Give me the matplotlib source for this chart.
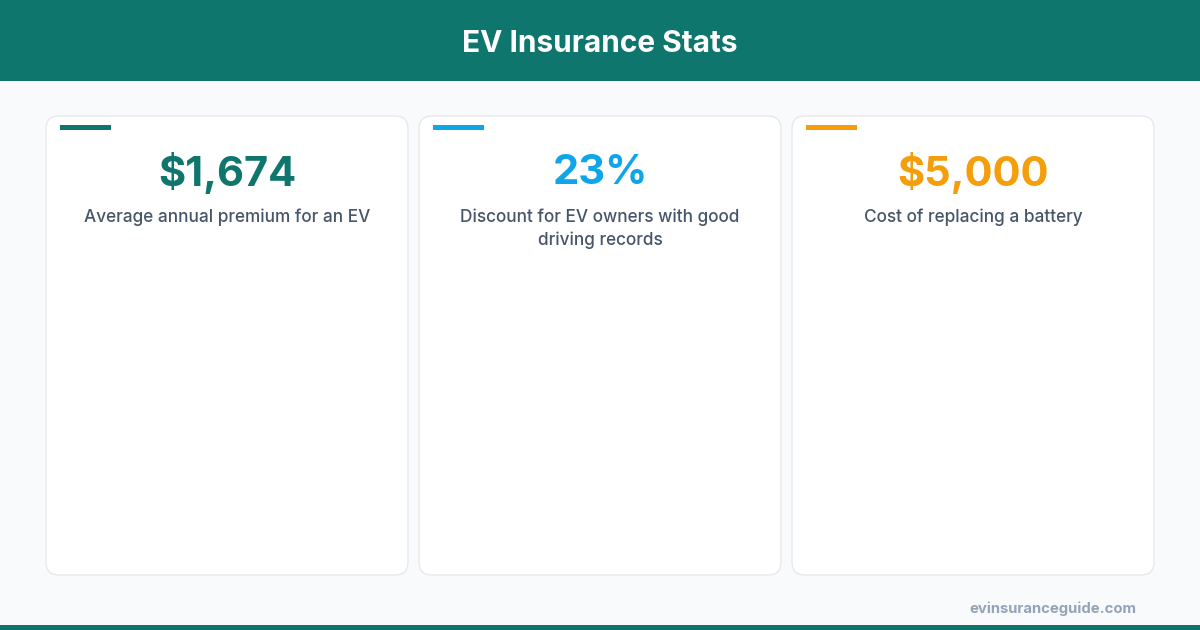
import matplotlib
matplotlib.use("Agg")
import matplotlib.pyplot as plt
from matplotlib.patches import FancyBboxPatch, Rectangle

# stat cards
values = ["$1,674", "23%", "$5,000"]
labels = [
    "Average annual premium for an EV",
    "Discount for EV owners with good\ndriving records",
    "Cost of replacing a battery",
]
accents = ["#0f766e", "#0ea5e9", "#f59e0b"]

title = "EV Insurance Stats"
source = "evinsuranceguide.com"

W, H = 1200, 630
plt.rcParams["font.family"] = ["Inter", "DejaVu Sans"]

fig = plt.figure(figsize=(W / 100, H / 100), dpi=100)
fig.patch.set_facecolor("#f8fafc")
ax = fig.add_axes([0, 0, 1, 1])
ax.set_xlim(0, W)
ax.set_ylim(H, 0)
ax.axis("off")

# header band + bottom strip
ax.add_patch(Rectangle((0, 0), W, 81, color="#0f766e", lw=0))
ax.add_patch(Rectangle((0, 625), W, 5, color="#0f766e", lw=0))
ax.text(W / 2, 41, title, ha="center", va="center_baseline", color="white",
        fontsize=21.5, fontweight="bold")

card_w, card_h, gap = 362, 459, 11
x0, y0 = 46, 116
for i, (val, lab, col) in enumerate(zip(values, labels, accents)):
    cx = x0 + i * (card_w + gap)
    ax.add_patch(FancyBboxPatch((cx, y0), card_w, card_h,
                                boxstyle="round,pad=0,rounding_size=13",
                                fc="white", ec="#e5e7eb", lw=0.9))
    ax.add_patch(Rectangle((cx + 14, y0 + 9), 51, 5, color=col, lw=0))
    ax.text(cx + card_w / 2, 173, val, ha="center", va="center",
            color=col, fontsize=30, fontweight="bold")
    ax.text(cx + card_w / 2, 208, lab, ha="center", va="top",
            color="#475569", fontsize=12.4, fontweight="medium",
            linespacing=1.45)

ax.text(1136, 609, source, ha="right", va="center", color="#94a3b8",
        fontsize=10.7, fontweight="bold")

fig.savefig("out.png", dpi=100, facecolor=fig.get_facecolor())
